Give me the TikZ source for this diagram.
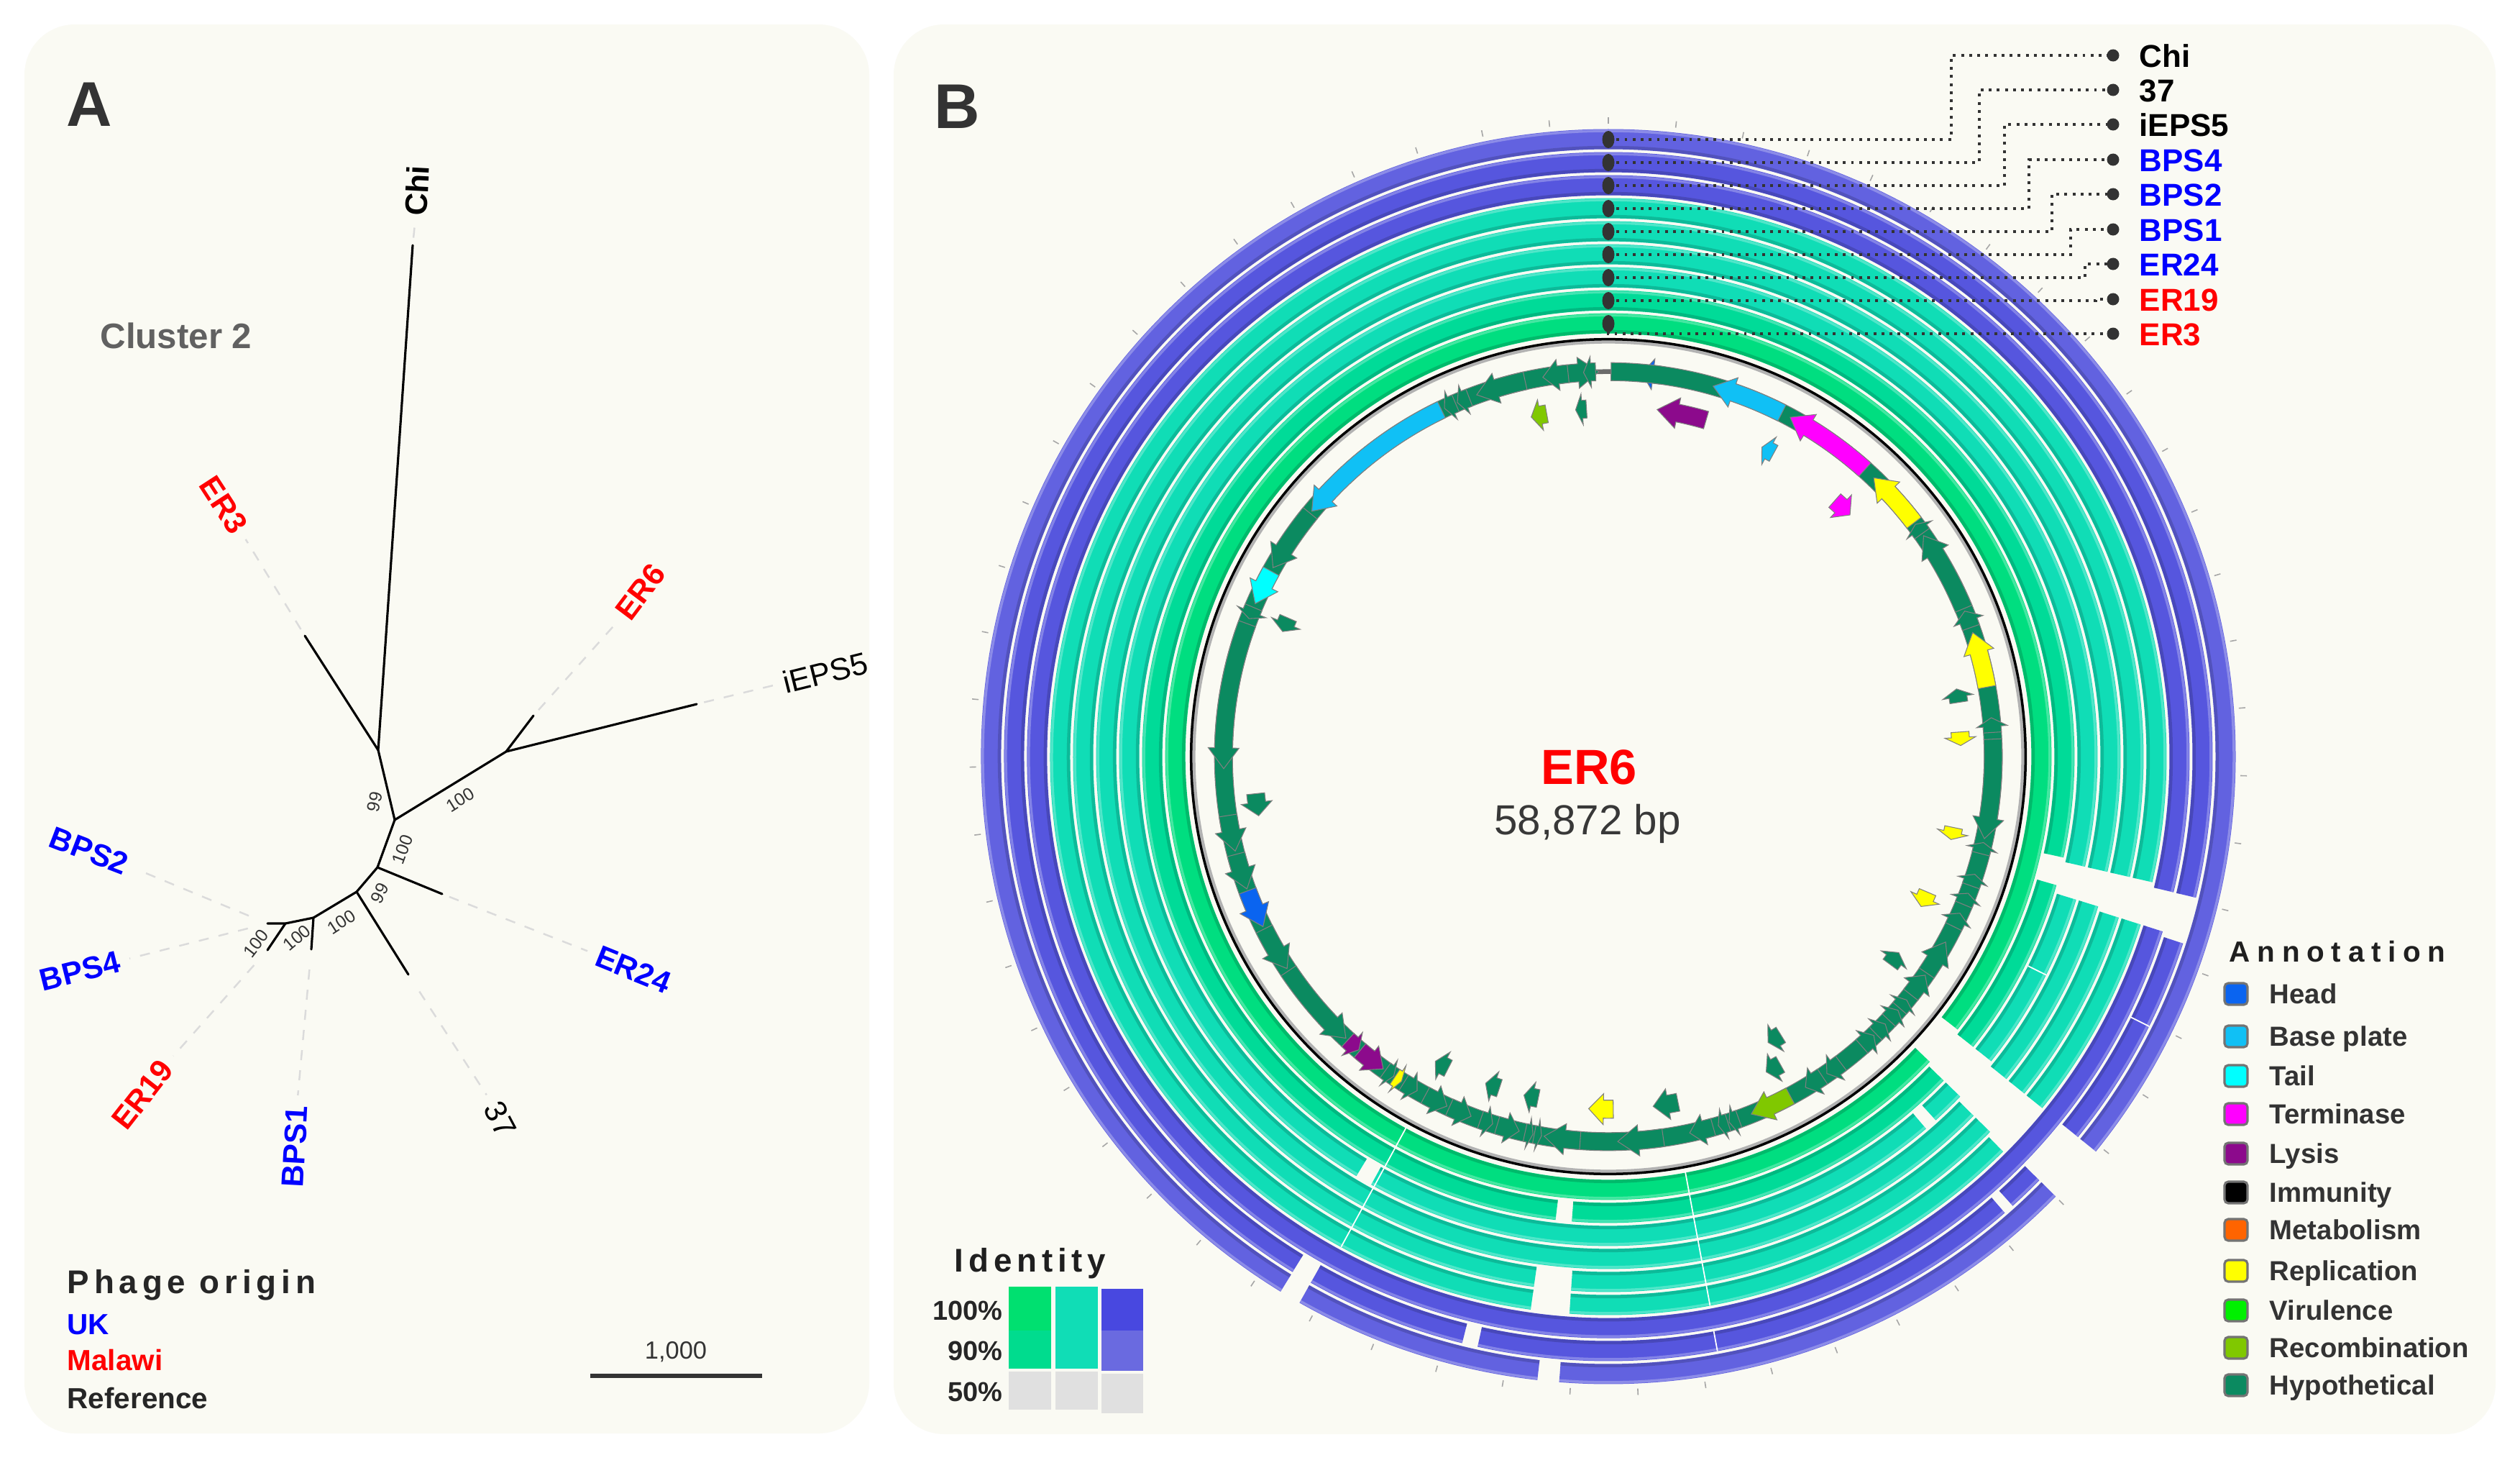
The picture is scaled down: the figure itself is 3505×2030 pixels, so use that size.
\documentclass[tikz,border=0pt]{standalone}
\usepackage{fontspec}
\setmainfont{Liberation Sans}
\newfontfamily\spacedfont[LetterSpace=15]{Liberation Sans}
\newfontfamily\widefont[LetterSpace=24]{Liberation Sans}
\usetikzlibrary{shapes.geometric}

\definecolor{panelbg}{HTML}{FAFAF3}
\definecolor{txtdark}{HTML}{333333}
\definecolor{ukblue}{HTML}{0000FF}
\definecolor{mwred}{HTML}{FF0000}
\definecolor{ringPo}{HTML}{6262E0}
\definecolor{ringP}{HTML}{5656DE}
\definecolor{ringT}{HTML}{10DDB6}
\definecolor{ringG}{HTML}{00DB98}
\definecolor{ringGi}{HTML}{00DE80}
\definecolor{idG1}{HTML}{00E070}
\definecolor{idG2}{HTML}{00DC8E}
\definecolor{idB1}{HTML}{4848E0}
\definecolor{idB2}{HTML}{6A6AE0}
\definecolor{idgray}{HTML}{E0E0E0}
\definecolor{head}{HTML}{0A64F0}
\definecolor{base}{HTML}{10C0F5}
\definecolor{tail}{HTML}{00FFFF}
\definecolor{term}{HTML}{FF00FF}
\definecolor{lysis}{HTML}{8C0A8C}
\definecolor{immun}{HTML}{000000}
\definecolor{metab}{HTML}{FF6400}
\definecolor{repl}{HTML}{FFFF00}
\definecolor{viru}{HTML}{00F000}
\definecolor{recomb}{HTML}{80C800}
\definecolor{hyp}{HTML}{0B8A60}

% ring segment: radius(px), a1, a2 (clockwise degrees from top), colour
\newcommand\rseg[4]{%
  \pgfmathsetmacro\RsR{#1/100}%
  \pgfmathsetmacro\RsA{90-#2}%
  \pgfmathsetmacro\RsB{90-#3}%
  \pgfmathsetmacro\RsI{(#1-11.5)/100}%
  \pgfmathsetmacro\RsO{(#1+11.5)/100}%
  \draw[#4, line width=0.28cm] (\RsA:\RsR cm) arc[start angle=\RsA, end angle=\RsB, radius=\RsR cm];
  \draw[#4!65!black, line width=0.045cm, opacity=0.45] (\RsA:\RsI cm) arc[start angle=\RsA, end angle=\RsB, radius=\RsI cm];
  \draw[#4!55!white, line width=0.035cm, opacity=0.6] (\RsA:\RsO cm) arc[start angle=\RsA, end angle=\RsB, radius=\RsO cm];
}
% gene arrow: [radius px]{tail angle}{head angle}{colour}
\newcommand\gene[4][535]{%
  \pgfmathsetmacro\GnR{#1/100}%
  \pgfmathsetmacro\GnA{90-#2}%
  \pgfmathsetmacro\GnB{90-#3}%
  \pgfmathsetmacro\GnS{(\GnB>\GnA)?1:-1}%
  \pgfmathsetmacro\GnL{min(3.1*535/#1,0.6*abs(\GnB-\GnA))}%
  \pgfmathsetmacro\GnC{\GnB-\GnS*\GnL}%
  \pgfmathsetmacro\GnI{\GnR-0.125}%
  \pgfmathsetmacro\GnO{\GnR+0.125}%
  \pgfmathsetmacro\GnHi{\GnR-0.215}%
  \pgfmathsetmacro\GnHo{\GnR+0.215}%
  \filldraw[fill=#4, draw=black!50, line width=0.3pt, line join=miter]
    (\GnA:\GnI cm) arc[start angle=\GnA, end angle=\GnC, radius=\GnI cm]
    -- (\GnC:\GnHi cm) -- (\GnB:\GnR cm) -- (\GnC:\GnHo cm) -- (\GnC:\GnO cm)
    arc[start angle=\GnC, end angle=\GnA, radius=\GnO cm] -- cycle;
}

\begin{document}
\begin{tikzpicture}[x=0.01cm,y=0.01cm,
  panellab/.style={font=\fontsize{25}{25}\selectfont\bfseries, text=txtdark, inner sep=0pt},
  treelab/.style={font=\fontsize{12.3}{12}\selectfont\bfseries, inner sep=0pt},
  treelabn/.style={font=\fontsize{12.3}{12}\selectfont, text=black, inner sep=0pt},
  bootlab/.style={font=\fontsize{7}{7}\selectfont, text=txtdark, inner sep=0pt},
  faint/.style={draw=black!14, dash pattern=on 4pt off 4pt, line width=0.7pt},
  branch/.style={draw=black, line width=0.9pt, line cap=round, line join=round},
  legtitle/.style={font=\spacedfont\fontsize{13}{13}\selectfont\bfseries, text=black!85, inner sep=0pt},
  legitem/.style={font=\fontsize{11.5}{12}\selectfont\bfseries, inner sep=0pt},
  annitem/.style={font=\fontsize{10.9}{11}\selectfont\bfseries, text=txtdark, inner sep=0pt},
  swatch/.style={draw=black!55, line width=0.9pt, rounded corners=1.5pt, minimum width=0.32cm, minimum height=0.30cm, inner sep=0pt},
  keylab/.style={font=\fontsize{12.5}{12.5}\selectfont\bfseries, inner sep=0pt, anchor=base west},
  dotline/.style={draw=txtdark, line width=1.1pt, dash pattern=on 1.1pt off 2.1pt},
  ringdot/.style={ellipse, fill=txtdark, minimum width=0.17cm, minimum height=0.24cm, inner sep=0pt},
  keydot/.style={circle, fill=txtdark, minimum size=0.17cm, inner sep=0pt},
  pct/.style={font=\fontsize{10.8}{11}\selectfont\bfseries, text=black!85, inner sep=0pt, anchor=east}
]
\useasboundingbox (0,0) rectangle (3505,-2030);
\fill[white] (0,0) rectangle (3505,-2030);
\fill[panelbg, rounded corners=0.7cm] (34,-34) rectangle (1209,-1993);
\fill[panelbg, rounded corners=0.7cm] (1243,-34) rectangle (3471,-1994);

%%%%%%%%%%%%%%%% Panel A %%%%%%%%%%%%%%%%
\node[panellab] (labA) at (124,-145) {A};
\node[font=\fontsize{14}{14}\selectfont\bfseries, text=black!62, inner sep=0pt] (clus) at (245,-467) {Cluster 2};

\coordinate (n1) at (526,-1043);
\coordinate (n2) at (549,-1140);
\coordinate (n3) at (704,-1045);
\coordinate (n4) at (525,-1206);
\coordinate (n5) at (496,-1240);
\coordinate (n6) at (436,-1276);
\coordinate (n7) at (397,-1284);
\coordinate (tChi) at (574,-341);
\coordinate (tER3) at (424,-884);
\coordinate (tER6) at (742,-995);
\coordinate (tiEPS5) at (969,-979);
\coordinate (tER24) at (615,-1243);
\coordinate (t37) at (568,-1355);
\coordinate (tBPS1) at (433,-1320);
\coordinate (tBPS24) at (372,-1284);
\coordinate (tER19) at (372,-1321);

\draw[branch] (tChi) -- (n1) -- (tER3);
\draw[branch] (n1) -- (n2) -- (n3) -- (tiEPS5);
\draw[branch] (n3) -- (tER6);
\draw[branch] (n2) -- (n4) -- (tER24);
\draw[branch] (n4) -- (n5) -- (t37);
\draw[branch] (n5) -- (n6) -- (tBPS1);
\draw[branch] (n6) -- (n7) -- (tBPS24);
\draw[branch] (n7) -- (tER19);

\node[treelab, text=black, rotate=87] (lChi) at (580,-265) {Chi};
\node[treelab, text=mwred, rotate=-57] (lER3) at (311,-702) {ER3};
\node[treelab, text=mwred, rotate=53] (lER6) at (891,-823) {ER6};
\node[treelabn, rotate=14] (liEPS5) at (1148,-935) {iEPS5};
\node[treelab, text=ukblue, rotate=-22] (lER24) at (881,-1348) {ER24};
\node[treelabn, rotate=-62] (l37) at (696,-1556) {37};
\node[treelab, text=ukblue, rotate=87] (lBPS1) at (410,-1594) {BPS1};
\node[treelab, text=mwred, rotate=52] (lER19) at (198,-1522) {ER19};
\node[treelab, text=ukblue, rotate=14] (lBPS4) at (111,-1350) {BPS4};
\node[treelab, text=ukblue, rotate=-21] (lBPS2) at (124,-1183) {BPS2};

\draw[faint, shorten <=3pt, shorten >=3pt] (tChi) -- (lChi.west);
\draw[faint, shorten <=3pt, shorten >=4pt] (tER3) -- (lER3.east);
\draw[faint, shorten <=3pt, shorten >=4pt] (tER6) -- (lER6.west);
\draw[faint, shorten <=3pt, shorten >=4pt] (tiEPS5) -- (liEPS5.west);
\draw[faint, shorten <=3pt, shorten >=4pt] (tER24) -- (lER24.west);
\draw[faint, shorten <=8pt, shorten >=4pt] (t37) -- (l37.west);
\draw[faint, shorten <=8pt, shorten >=4pt] (tBPS1) -- (lBPS1.east);
\draw[faint, shorten <=8pt, shorten >=4pt] (tER19) -- (lER19.east);
\draw[faint, shorten <=8pt, shorten >=4pt] (tBPS24) -- (lBPS4.east);
\draw[faint, shorten <=8pt, shorten >=4pt] (tBPS24) -- (lBPS2.east);

\node[bootlab, rotate=77] (b1) at (521,-1115) {99};
\node[bootlab, rotate=32] (b2) at (640,-1112) {100};
\node[bootlab, rotate=70] (b3) at (560,-1181) {100};
\node[bootlab, rotate=62] (b4) at (528,-1242) {99};
\node[bootlab, rotate=33] (b5) at (475,-1282) {100};
\node[bootlab, rotate=40] (b6) at (413,-1304) {100};
\node[bootlab, rotate=52] (b7) at (356,-1312) {100};

\node[legtitle, anchor=base west] (po) at (93,-1798) {Phage origin};
\node[legitem, text=ukblue, anchor=base west] (uk) at (93,-1855) {UK};
\node[legitem, text=mwred, anchor=base west] (mw) at (93,-1905) {Malawi};
\node[legitem, text=black!85, anchor=base west] (rf) at (93,-1958) {Reference};
\coordinate (sb1) at (821,-1913);
\coordinate (sb2) at (1060,-1913);
\draw[line width=1.8pt, txtdark] (sb1) -- (sb2);
\node[font=\fontsize{9.8}{10}\selectfont, text=txtdark, inner sep=0pt] (sbl) at (940,-1880) {1,000};

%%%%%%%%%%%%%%%% Panel B %%%%%%%%%%%%%%%%
\node[panellab] (labB) at (1331,-148) {B};

\begin{scope}[shift={(2237,-1052)}]
  % ticks
  \foreach \k in {0,...,58} {
    \draw[black!35, line width=0.45pt] ({90-\k*6.115}:8.79cm) -- ({90-\k*6.115}:8.88cm);
  }
  % rings (outer to inner)
  \foreach \a/\b in {0/129,134.5/184.5,186.5/209.5,211.5/360} {\rseg{858}{\a}{\b}{ringPo}}
  \foreach \a/\b in {0/103.5,108/129,134.5/138,139/192.5,194/209.5,211.5/360} {\rseg{826}{\a}{\b}{ringP}}
  \foreach \a/\b in {0/103.5,107.5/360} {\rseg{794}{\a}{\b}{ringP}}
  \foreach \a/\b in {0/103,107.5/129,135/184,188/360} {\rseg{762}{\a}{\b}{ringT}}
  \foreach \a/\b in {0/103,107.5/129,134.5/184,188/360} {\rseg{730}{\a}{\b}{ringT}}
  \foreach \a/\b in {0/103,107/129,134.5/360} {\rseg{698}{\a}{\b}{ringT}}
  \foreach \a/\b in {0/103,107/128.5,134/138,139.5/209,211/360} {\rseg{666}{\a}{\b}{ringT}}
  \foreach \a/\b in {0/102.5,106/128.5,134/184.5,186.5/360} {\rseg{634}{\a}{\b}{ringG}}
  \foreach \a/\b in {0/128,133.5/360} {\rseg{602}{\a}{\b}{ringGi}}
  % thin white boundaries
  \draw[white, line width=0.5pt] (-79.5:5.86cm) -- (-79.5:7.76cm);
  \draw[white, line width=0.5pt] (-79.6:8.12cm) -- (-79.6:8.40cm);
  \draw[white, line width=0.5pt] (-118.6:5.86cm) -- (-118.6:7.76cm);
  \draw[white, line width=0.5pt] (-26.5:6.52cm) -- (-26.5:6.80cm);
  \draw[white, line width=0.5pt] (-26.5:8.12cm) -- (-26.5:8.40cm);
  % black circle and backbone
  \draw[black!30, line width=0.06cm] (0,0) circle[radius=5.77cm];
  \draw[black, line width=0.035cm] (0,0) circle[radius=5.80cm];
  \draw[black!58, line width=0.065cm] (0,0) circle[radius=5.35cm];
  % genes on the backbone
  \foreach \gT/\gH/\gC in {
    7.8/5.0/head, 0.4/358.6/hyp, 358.1/356.3/hyp, 354.0/350.2/hyp, 347.5/340.0/hyp,
    338.8/336.9/hyp, 336.6/334.8/hyp, 334.3/309.6/base, 309.2/299.4/hyp, 298.8/293.4/tail,
    292.8/291.0/hyp, 290.2/268.2/hyp, 261.2/255.8/hyp, 255.3/249.9/hyp, 249.6/243.8/head,
    243.4/236.6/hyp, 236.2/223.0/hyp, 222.6/220.4/lysis, 220.2/215.8/lysis, 215.4/213.9/hyp,
    213.7/212.5/repl, 212.1/209.8/hyp, 208.4/204.8/hyp, 204.4/200.9/hyp, 199.4/197.5/hyp,
    196.8/193.4/hyp, 192.5/191.3/hyp, 191.1/190.0/hyp, 184.2/189.6/hyp, 171.8/178.6/hyp,
    164.2/167.8/hyp, 160.2/161.7/hyp, 161.9/163.4/hyp, 151.8/158.2/recomb, 146.2/149.2/hyp,
    142.8/145.4/hyp, 138.8/136.4/hyp, 136.0/134.0/hyp, 133.2/131.2/hyp, 130.8/129.2/hyp,
    128.2/124.6/hyp, 124.2/118.8/hyp, 116.2/114.0/hyp, 112.6/110.8/hyp, 109.6/107.8/hyp,
    104.6/102.9/hyp, 87.4/102.3/hyp, 86.4/84.2/hyp, 79.6/71.2/repl, 70.4/67.8/hyp,
    67.4/55.0/hyp, 54.6/52.9/hyp, 52.6/43.6/repl, 41.8/28.2/term, 26.8/15.8/base} {\gene{\gT}{\gH}{\gC}}
  % genes off the backbone
  \foreach \gR/\gT/\gH/\gC in {
    487/16.2/8.0/lysis, 484/349.8/347.2/recomb, 484/356.4/354.6/hyp, 480/28.6/26.4/base,
    475/41.5/45.0/term, 493/81.2/79.0/hyp, 490/86.0/88.2/repl, 490/101.6/103.6/repl,
    482/113.0/115.6/repl, 487/126.4/124.0/hyp, 455/148.2/150.8/hyp, 490/150.8/153.4/hyp,
    490/168.6/172.7/hyp, 490/179.2/183.2/repl, 485/191.6/194.0/hyp, 485/198.2/200.6/hyp,
    487/207.2/209.6/hyp, 493/264.0/260.4/hyp, 485/293.4/291.0/hyp} {\gene[\gR]{\gT}{\gH}{\gC}}
\end{scope}

\node[font=\fontsize{19.5}{20}\selectfont\bfseries, text=mwred, inner sep=0pt] (gname) at (2210,-1067) {ER6};
\node[font=\fontsize{16.6}{17}\selectfont, text=black!78, inner sep=0pt] (glen) at (2208,-1145) {58,872 bp};

% ring key: ring dots, key dots, dotted connectors
\foreach \nm/\r/\ly/\ex/\col in {Chi/858/77/2714/black, 37/826/125/2753/black, iEPS5/794/173/2788/black,
    BPS4/762/222/2822/ukblue, BPS2/730/270/2854/ukblue, BPS1/698/319/2880/ukblue, ER24/666/367/2900/ukblue} {
  \coordinate (rd\nm) at (2237,-1052+\r);
  \coordinate (ld\nm) at (2939,-\ly);
  \draw[dotline] (rd\nm) -- (\ex,-1052+\r) |- (ld\nm);
  \node[ringdot] at (rd\nm) {};
  \node[keydot] at (ld\nm) {};
  \node[keylab, text=\col] (kl\nm) at (2975,-\ly-16) {\nm};
}
\coordinate (rdER19) at (2237,-418);
\coordinate (ldER19) at (2939,-416);
\draw[dotline] (rdER19) -- (2915,-418) |- (ldER19);
\node[ringdot] at (rdER19) {};
\node[keydot] at (ldER19) {};
\node[keylab, text=mwred] (klER19) at (2975,-432) {ER19};
\coordinate (rdER3) at (2237,-450);
\coordinate (ldER3) at (2939,-464);
\draw[dotline] (rdER3) |- (ldER3);
\node[ringdot] at (rdER3) {};
\node[keydot] at (ldER3) {};
\node[keylab, text=mwred] (klER3) at (2975,-480) {ER3};

% Identity key
\node[font=\spacedfont\fontsize{13}{13}\selectfont\bfseries, text=black!88, inner sep=0pt, anchor=base west] (idt) at (1327,-1768) {Identity};
\node[pct] (p100) at (1395,-1822) {100\%};
\node[pct] (p90) at (1395,-1878) {90\%};
\node[pct] (p50) at (1395,-1935) {50\%};
\fill[idG1] (1403,-1789) rectangle (1462,-1850);
\fill[idG2] (1403,-1850) rectangle (1462,-1903);
\fill[idgray] (1403,-1907) rectangle (1462,-1960);
\fill[ringT] (1468,-1789) rectangle (1527,-1903);
\fill[idgray] (1468,-1907) rectangle (1527,-1960);
\fill[idB1] (1532,-1792) rectangle (1590,-1850);
\fill[idB2] (1532,-1850) rectangle (1590,-1906);
\fill[idgray] (1532,-1910) rectangle (1590,-1965);

% Annotation key
\node[font=\widefont\fontsize{11.5}{12}\selectfont\bfseries, text=black!88, inner sep=0pt, anchor=base west] (anntitle) at (3100,-1337) {Annotation};
\foreach \y/\c/\t [count=\i] in {1382/head/Head, 1441/base/Base plate, 1496/tail/Tail, 1549/term/Terminase,
    1604/lysis/Lysis, 1658/immun/Immunity, 1710/metab/Metabolism, 1767/repl/Replication,
    1822/viru/Virulence, 1874/recomb/Recombination, 1926/hyp/Hypothetical} {
  \node[swatch, fill=\c] (sw\i) at (3110,-\y) {};
  \node[annitem, anchor=base west] (an\i) at (3156,-\y-13) {\t};
}
\end{tikzpicture}
\end{document}
